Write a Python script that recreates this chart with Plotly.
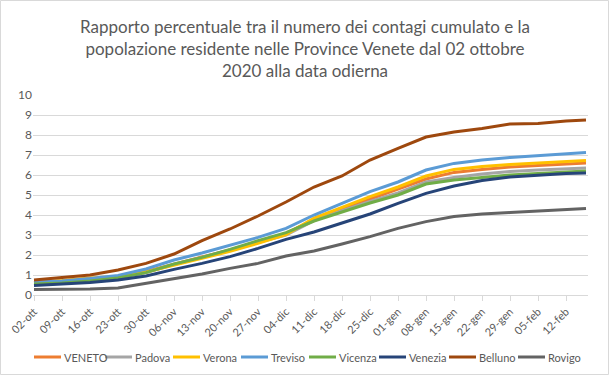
import plotly.graph_objects as go

dates = ["2020-10-02","2020-10-09","2020-10-16","2020-10-23","2020-10-30","2020-11-06","2020-11-13",
         "2020-11-20","2020-11-27","2020-12-04","2020-12-11","2020-12-18","2020-12-25","2021-01-01",
         "2021-01-08","2021-01-15","2021-01-22","2021-01-29","2021-02-05","2021-02-12","2021-02-17"]

veneto  = [0.62,0.68,0.78,0.92,1.18,1.55,1.90,2.25,2.65,3.08,3.78,4.30,4.80,5.30,5.80,6.13,6.28,6.40,6.48,6.56,6.60]
padova  = [0.60,0.65,0.75,0.88,1.12,1.52,1.88,2.25,2.65,3.00,3.72,4.22,4.68,5.10,5.65,5.88,6.05,6.17,6.25,6.32,6.35]
verona  = [0.63,0.72,0.85,0.93,1.15,1.50,1.85,2.18,2.58,3.02,3.85,4.40,4.92,5.40,5.95,6.28,6.42,6.52,6.60,6.67,6.72]
treviso = [0.65,0.70,0.82,0.98,1.30,1.75,2.10,2.50,2.88,3.33,4.00,4.58,5.17,5.65,6.25,6.58,6.75,6.88,6.98,7.08,7.12]
vicenza = [0.55,0.60,0.70,0.85,1.12,1.55,1.88,2.28,2.72,3.12,3.70,4.15,4.60,5.00,5.55,5.75,5.88,6.00,6.08,6.16,6.20]
venezia = [0.48,0.55,0.62,0.75,0.95,1.28,1.58,1.92,2.33,2.78,3.15,3.60,4.05,4.58,5.08,5.45,5.72,5.90,6.00,6.07,6.10]
belluno = [0.75,0.88,1.00,1.25,1.58,2.05,2.72,3.30,3.95,4.65,5.40,5.95,6.75,7.33,7.90,8.15,8.33,8.55,8.58,8.70,8.75]
rovigo  = [0.28,0.28,0.30,0.35,0.58,0.80,1.05,1.33,1.58,1.95,2.20,2.55,2.92,3.33,3.67,3.92,4.05,4.12,4.20,4.30,4.33]

tick_dates = dates[:20]
tick_labels = ["02-ott","09-ott","16-ott","23-ott","30-ott","06-nov","13-nov","20-nov","27-nov","04-dic",
               "11-dic","18-dic","25-dic","01-gen","08-gen","15-gen","22-gen","29-gen","05-feb","12-feb"]

names = ["VENETO", "Padova", "Verona", "Treviso", "Vicenza", "Venezia", "Belluno", "Rovigo"]
values = [veneto, padova, verona, treviso, vicenza, venezia, belluno, rovigo]
colors = ["#ED7D31", "#A5A5A5", "#FFC000", "#5B9BD5", "#70AD47", "#264478", "#9E480E", "#636363"]

font_family = "Lato, 'Open Sans', sans-serif"
W, H = 610, 376
ml, mr, mt, mb = 33, 22, 95, 81
pw, ph = W - ml - mr, H - mt - mb

def px_x(p):
    return (p - ml) / pw

def px_y(p):
    return (H - mb - p) / ph

fig = go.Figure()
for name, vals, col in zip(names, values, colors):
    fig.add_trace(go.Scatter(x=dates, y=vals, name=name, mode="lines",
                             line=dict(color=col, width=3), showlegend=False))

fig.update_layout(
    width=W, height=H,
    margin=dict(l=ml, r=mr, t=mt, b=mb, autoexpand=False),
    paper_bgcolor="white", plot_bgcolor="white",
    font=dict(family=font_family, color="#595959", size=11),
    title=dict(text="Rapporto percentuale tra il numero dei contagi cumulato e la<br>popolazione residente nelle Province Venete dal 02 ottobre<br>2020 alla data odierna",
               x=0.5, xanchor="center", xref="container", yref="container",
               y=1 - 33 / H, yanchor="middle",
               font=dict(size=17, color="#595959", family=font_family)),
    xaxis=dict(type="date", range=["2020-10-01 18:00", "2021-02-17 12:00"],
               tickvals=tick_dates, ticktext=tick_labels, tickangle=-45,
               showgrid=False, showline=True, linecolor="#D9D9D9", linewidth=1,
               ticks="outside", ticklen=5, tickcolor="#D9D9D9",
               tickfont=dict(size=11, color="#595959"), zeroline=False, automargin=False),
    yaxis=dict(range=[0, 10], dtick=1, showgrid=True, gridcolor="#D9D9D9", gridwidth=1,
               zeroline=False, showline=False, ticks="", automargin=False,
               tickfont=dict(size=12, color="#595959")),
    showlegend=False,
)

# custom single-row legend (Excel style)
legend_left = [34, 105, 173, 241, 309, 379, 449, 518]
legend_y = 357
for name, col, x0 in zip(names, colors, legend_left):
    fig.add_shape(type="line", xref="paper", yref="paper",
                  x0=px_x(x0), x1=px_x(x0 + 27), y0=px_y(legend_y), y1=px_y(legend_y),
                  line=dict(color=col, width=3))
    fig.add_annotation(text=name, xref="paper", yref="paper", x=px_x(x0 + 28), y=px_y(legend_y),
                       xanchor="left", yanchor="middle", showarrow=False,
                       font=dict(size=11, color="#595959", family=font_family))

fig.add_shape(type="rect", xref="paper", yref="paper",
              x0=px_x(0.5), x1=px_x(W - 1.5), y0=px_y(H - 1.5), y1=px_y(0.5),
              line=dict(color="#D9D9D9", width=1), layer="below")

fig.write_html("out.html", config={"displayModeBar": False},
               post_script="document.body.style.margin='0';")
